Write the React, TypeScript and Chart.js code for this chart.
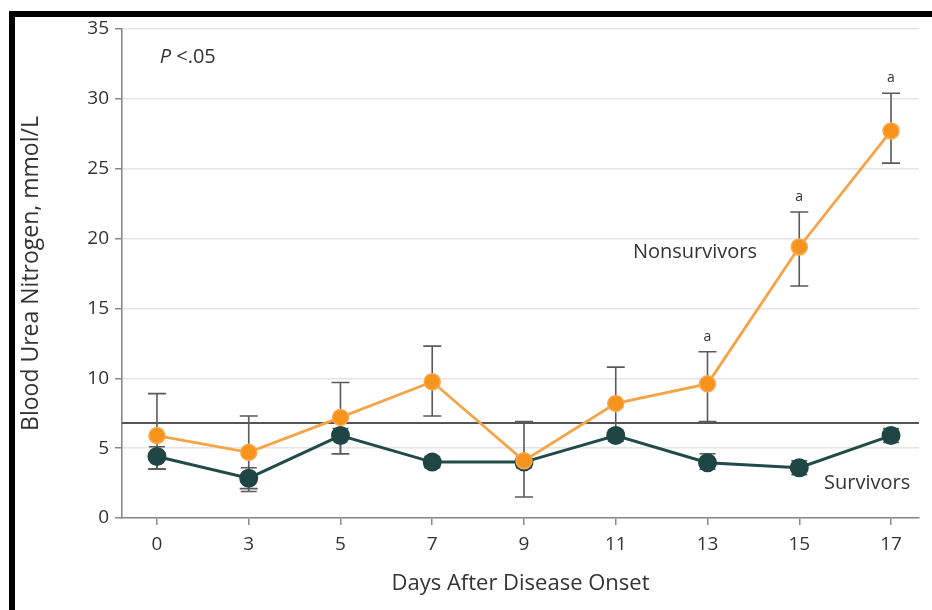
import React, { useEffect, useRef } from "react";
import { Chart, registerables } from "chart.js";

Chart.register(...registerables);

const dayLabels = ["0", "3", "5", "7", "9", "11", "13", "15", "17"];
const nonsurvivors = [5.9, 4.7, 7.2, 9.75, 4.1, 8.2, 9.6, 19.4, 27.7];
const nonsurvivorsLow = [3.5, 2.1, 4.6, 7.3, 1.5, 5.8, 6.9, 16.6, 25.4];
const nonsurvivorsHigh = [8.9, 7.3, 9.7, 12.3, 6.9, 10.8, 11.9, 21.9, 30.4];
const survivors = [4.4, 2.85, 5.9, 4.0, 4.0, 5.9, 3.95, 3.6, 5.9];
const survivorsLow = [3.5, 1.9, 4.6, 3.6, 3.6, 5.5, 3.5, 3.1, 5.4];
const survivorsHigh = [5.1, 3.6, 6.4, 4.4, 4.4, 6.3, 4.6, 4.1, 6.4];
const significant = [false, false, false, false, false, false, true, true, true];
const referenceLevel = 6.8;
const yTicks = [0, 5, 10, 15, 20, 25, 30, 35];

const FONT = "'Open Sans', 'DejaVu Sans', sans-serif";

const overlayPlugin = {
  id: "overlay",
  beforeDraw(chart: any) {
    const ctx = chart.ctx;
    ctx.save();
    ctx.fillStyle = "#ffffff";
    ctx.fillRect(0, 0, chart.width, chart.height);
    ctx.fillStyle = "#000000";
    ctx.fillRect(9, 11, chart.width - 9, 6);
    ctx.fillRect(9, 11, 6, chart.height - 11);
    ctx.restore();
  },
  beforeDatasetsDraw(chart: any) {
    const ctx = chart.ctx;
    const xs = chart.scales.x;
    const ys = chart.scales.y;
    const area = chart.chartArea;
    ctx.save();
    const ry = ys.getPixelForValue(referenceLevel);
    ctx.strokeStyle = "#555555";
    ctx.lineWidth = 2.2;
    ctx.beginPath();
    ctx.moveTo(area.left, ry);
    ctx.lineTo(area.right, ry);
    ctx.stroke();
    const drawErr = (lows: number[], highs: number[], cap: number) => {
      ctx.strokeStyle = "#5a5a5a";
      ctx.lineWidth = 1.6;
      lows.forEach((lo, i) => {
        const x = xs.getPixelForValue(i);
        const y1 = ys.getPixelForValue(lo);
        const y2 = ys.getPixelForValue(highs[i]);
        ctx.beginPath();
        ctx.moveTo(x, y1);
        ctx.lineTo(x, y2);
        ctx.moveTo(x - cap, y1);
        ctx.lineTo(x + cap, y1);
        ctx.moveTo(x - cap, y2);
        ctx.lineTo(x + cap, y2);
        ctx.stroke();
      });
    };
    drawErr(survivorsLow, survivorsHigh, 8);
    drawErr(nonsurvivorsLow, nonsurvivorsHigh, 9);
    ctx.restore();
  },
  afterDraw(chart: any) {
    const ctx = chart.ctx;
    const xs = chart.scales.x;
    const ys = chart.scales.y;
    ctx.save();
    ctx.fillStyle = "#333333";
    ctx.textBaseline = "middle";
    ctx.font = `14px ${FONT}`;
    ctx.textAlign = "center";
    significant.forEach((s, i) => {
      if (!s) return;
      ctx.fillText("a", xs.getPixelForValue(i), ys.getPixelForValue(nonsurvivorsHigh[i]) - 15);
    });
    ctx.font = `20px ${FONT}`;
    ctx.textAlign = "right";
    ctx.fillText("Nonsurvivors", xs.getPixelForValue(6.54), ys.getPixelForValue(19.0));
    ctx.fillText("Survivors", xs.getPixelForValue(8.21), ys.getPixelForValue(2.5));
    ctx.textAlign = "left";
    const px = xs.getPixelForValue(0.03);
    const py = ys.getPixelForValue(33.0);
    ctx.font = `italic 20px ${FONT}`;
    ctx.fillText("P", px, py);
    const w = ctx.measureText("P ").width;
    ctx.font = `20px ${FONT}`;
    ctx.fillText("<.05", px + w, py);
    ctx.restore();
  },
};

export default function App() {
  const canvasRef = useRef<HTMLCanvasElement | null>(null);

  useEffect(() => {
    if (!canvasRef.current) return;
    const toPoints = (arr: number[]) => arr.map((v, i) => ({ x: i, y: v }));
    const chart = new Chart(canvasRef.current, {
      type: "line",
      data: {
        datasets: [
          {
            label: "Nonsurvivors",
            data: toPoints(nonsurvivors),
            borderColor: "#f5a445",
            borderWidth: 2.8,
            pointBackgroundColor: "#f7941d",
            pointBorderColor: "#f9a94e",
            pointBorderWidth: 1.5,
            pointRadius: 8,
            tension: 0,
          },
          {
            label: "Survivors",
            data: toPoints(survivors),
            borderColor: "#214a48",
            borderWidth: 3,
            pointBackgroundColor: "#1f4644",
            pointBorderColor: "#1f4644",
            pointRadius: 8,
            tension: 0,
          },
        ],
      },
      options: {
        responsive: false,
        animation: false,
        devicePixelRatio: 1,
        layout: { padding: { top: 29, right: 13, left: 0, bottom: 0 } },
        plugins: { legend: { display: false }, tooltip: { enabled: false } },
        scales: {
          x: {
            type: "linear",
            min: -0.381,
            max: 8.305,
            afterBuildTicks: (scale: any) => {
              scale.ticks = dayLabels.map((_, i) => ({ value: i }));
            },
            afterFit: (scale: any) => {
              scale.height = 92;
            },
            ticks: {
              callback: (v: any) => dayLabels[v as number] ?? "",
              font: { family: FONT, size: 19 },
              color: "#333333",
              padding: 8,
              maxRotation: 0,
              autoSkip: false,
            },
            grid: {
              drawOnChartArea: false,
              drawTicks: true,
              tickLength: 7,
              tickColor: "#888888",
              lineWidth: 1.5,
            },
            border: { color: "#888888", width: 1.6 },
            title: {
              display: true,
              text: "Days After Disease Onset",
              font: { family: FONT, size: 22 },
              color: "#333333",
              padding: { top: 0, bottom: 13 },
            },
          },
          y: {
            min: 0,
            max: 35,
            afterBuildTicks: (scale: any) => {
              scale.ticks = yTicks.map((v) => ({ value: v }));
            },
            afterFit: (scale: any) => {
              scale.width = 122;
            },
            ticks: {
              font: { family: FONT, size: 19 },
              color: "#333333",
              padding: 6,
            },
            grid: {
              color: "#e4e4e4",
              lineWidth: 1.5,
              tickLength: 7,
              tickColor: "#888888",
            },
            border: { color: "#888888", width: 1.6 },
            title: {
              display: true,
              text: "Blood Urea Nitrogen, mmol/L",
              font: { family: FONT, size: 23 },
              color: "#333333",
              padding: { top: 18, bottom: 0 },
            },
          },
        },
      },
      plugins: [overlayPlugin],
    } as any);
    return () => chart.destroy();
  }, []);

  return (
    <div style={{ position: "fixed", left: 0, top: 0, width: 932, height: 610, background: "#fff" }}>
      <canvas ref={canvasRef} width={932} height={610} style={{ display: "block" }} />
    </div>
  );
}
